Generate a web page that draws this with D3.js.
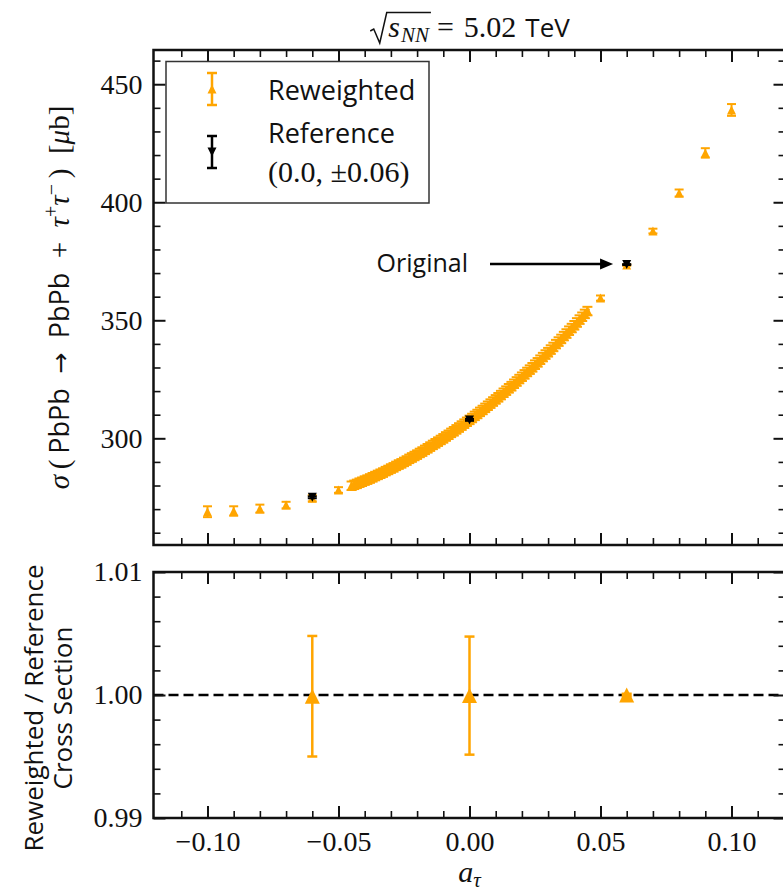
<!DOCTYPE html>
<html><head><meta charset="utf-8">
<script src="https://cdn.jsdelivr.net/npm/d3@7"></script>
<style>body{margin:0;background:#fff}</style>
</head><body><svg id="c" width="783" height="894"></svg>
<script>
// ---------------- data ----------------
const rwA     = [-0.10, -0.09, -0.08, -0.07, -0.06, -0.05, 0.05, 0.06, 0.07, 0.08, 0.09, 0.10];
const rwSigma = [268.9, 269.2, 270.2, 271.7, 274.6, 278.1, 359.4, 373.4, 387.8, 403.9, 420.9, 439.1];
const rwErr   = [2.3, 2.0, 1.7, 1.4, 1.3, 1.2, 1.1, 0.3, 1.0, 1.5, 2.0, 2.5];

const bandA = [-0.045,-0.044,-0.043,-0.042,-0.041,-0.040,-0.039,-0.038,-0.037,-0.036,-0.035,-0.034,
  -0.033,-0.032,-0.031,-0.030,-0.029,-0.028,-0.027,-0.026,-0.025,-0.024,-0.023,-0.022,-0.021,-0.020,
  -0.019,-0.018,-0.017,-0.016,-0.015,-0.014,-0.013,-0.012,-0.011,-0.010,-0.009,-0.008,-0.007,-0.006,
  -0.005,-0.004,-0.003,-0.002,-0.001,0.000,0.001,0.002,0.003,0.004,0.005,0.006,0.007,0.008,0.009,
  0.010,0.011,0.012,0.013,0.014,0.015,0.016,0.017,0.018,0.019,0.020,0.021,0.022,0.023,0.024,0.025,
  0.026,0.027,0.028,0.029,0.030,0.031,0.032,0.033,0.034,0.035,0.036,0.037,0.038,0.039,0.040,0.041,
  0.042,0.043,0.044,0.045];
const bandSigma = [279.9,280.3,280.7,281.2,281.6,282.1,282.5,283.0,283.5,284.0,284.5,285.0,
  285.5,286.1,286.6,287.2,287.7,288.3,288.9,289.4,290.0,290.6,291.3,291.9,292.5,293.1,
  293.8,294.4,295.1,295.8,296.5,297.2,297.9,298.6,299.3,300.0,300.8,301.5,302.3,303.0,
  303.8,304.6,305.4,306.2,307.0,307.8,308.6,309.5,310.3,311.2,312.0,312.9,313.8,314.7,315.6,
  316.5,317.4,318.3,319.3,320.2,321.2,322.1,323.1,324.1,325.1,326.1,327.1,328.1,329.1,330.1,331.2,
  332.2,333.3,334.4,335.5,336.5,337.6,338.7,339.9,341.0,342.1,343.3,344.4,345.6,346.7,347.9,349.1,
  350.3,351.5,352.7,353.9];
const bandErr = 1.8;

const refA     = [-0.06, 0.00, 0.06];
const refSigma = [275.0, 307.8, 373.6];
const refErr   = [0.4, 0.4, 0.2];

const ratioA   = [-0.06, 0.00, 0.06];
const ratioVal = [0.9999, 0.99995, 1.0000];
const ratioErr = [0.0049, 0.0048, 0.0001];

const xMajorTicks  = [-0.10, -0.05, 0.00, 0.05, 0.10];
const xTickLabels  = ["\u22120.10", "\u22120.05", "0.00", "0.05", "0.10"];
const xMinorTicks  = [-0.11,-0.09,-0.08,-0.07,-0.06,-0.04,-0.03,-0.02,-0.01,0.01,0.02,0.03,0.04,0.06,0.07,0.08,0.09,0.11,0.12];
const yTopMajor    = [300, 350, 400, 450];
const yTopLabels   = ["300", "350", "400", "450"];
const yTopMinor    = [260, 270, 280, 290, 310, 320, 330, 340, 360, 370, 380, 390, 410, 420, 430, 440, 460];
const yBotMajor    = [0.99, 1.00, 1.01];
const yBotLabels   = ["0.99", "1.00", "1.01"];
const yBotMinor    = [0.992, 0.994, 0.996, 0.998, 1.002, 1.004, 1.006, 1.008];

// ---------------- setup ----------------
const fontNames = ["Liberation Serif", "Open Sans", "DejaVu Sans"];
const SERIF = `"${fontNames[0]}"`;
const SANS = `"${fontNames[1]}"`;
const DJ = `"${fontNames[2]}"`;
const svg = d3.select("#c");
const ORANGE = "#FFA500";

const L = 153.5, R = 785.5;
const x  = d3.scaleLinear().domain([-0.1206, 0.1206]).range([L, R]);
const yT = d3.scaleLinear().domain([254.8, 464.5]).range([545, 50]);
const yB = d3.scaleLinear().domain([0.99, 1.01]).range([818, 572]);

const ctx = document.createElement("canvas").getContext("2d");
function measure(t, size, fam, style){ ctx.font = `${style || "normal"} ${size}px ${fam}`; return ctx.measureText(t).width; }

function styleAxis(g){
  g.attr("font-family", null).attr("font-size", null);
  g.select(".domain").remove();
  g.selectAll(".tick line").attr("stroke", "#111");
  g.selectAll(".tick text").style("font-family", SERIF).attr("font-size", 28).attr("fill", "#111");
}

function panelAxes(yS, yMajor, yMinor, yLabels, top, bottom, showX){
  const fmtX = d => showX ? xTickLabels[xMajorTicks.indexOf(d)] : "";
  const add = (tr, axis, w) => svg.append("g").attr("transform", tr).call(axis)
    .call(styleAxis).call(g => g.selectAll(".tick line").attr("stroke-width", w));
  add(`translate(0,${bottom})`, d3.axisBottom(x).tickValues(xMajorTicks).tickSize(-12).tickPadding(13).tickFormat(fmtX), 2);
  add(`translate(0,${bottom})`, d3.axisBottom(x).tickValues(xMinorTicks).tickSize(-7).tickFormat(""), 1.6);
  add(`translate(0,${top})`, d3.axisTop(x).tickValues(xMajorTicks).tickSize(-12).tickFormat(""), 2);
  add(`translate(0,${top})`, d3.axisTop(x).tickValues(xMinorTicks).tickSize(-7).tickFormat(""), 1.6);
  add(`translate(${L},0)`, d3.axisLeft(yS).tickValues(yMajor).tickSize(-12).tickPadding(11).tickFormat((d, i) => yLabels[i]), 2);
  add(`translate(${L},0)`, d3.axisLeft(yS).tickValues(yMinor).tickSize(-7).tickFormat(""), 1.6);
  add(`translate(${R},0)`, d3.axisRight(yS).tickValues(yMajor).tickSize(-12).tickFormat(""), 2);
  add(`translate(${R},0)`, d3.axisRight(yS).tickValues(yMinor).tickSize(-7).tickFormat(""), 1.6);
  svg.append("rect").attr("x", L).attr("y", top).attr("width", R - L).attr("height", bottom - top)
    .attr("fill", "none").attr("stroke", "#111").attr("stroke-width", 2.5);
}

function triPath(cx, cy, m, up){
  const h = m / 2;
  return up ? `M${cx},${cy - h}L${cx + h},${cy + h}L${cx - h},${cy + h}Z`
            : `M${cx},${cy + h}L${cx + h},${cy - h}L${cx - h},${cy - h}Z`;
}

function errSeries(g, xs, ys, es, yS, color, m, cap, lw, up){
  xs.forEach((a, i) => {
    const cx = x(a);
    const e = Array.isArray(es) ? es[i] : es;
    const y1 = yS(ys[i] - e), y2 = yS(ys[i] + e);
    g.append("line").attr("x1", cx).attr("x2", cx).attr("y1", y1).attr("y2", y2)
      .attr("stroke", color).attr("stroke-width", lw);
    [y1, y2].forEach(yy => g.append("line").attr("x1", cx - cap).attr("x2", cx + cap)
      .attr("y1", yy).attr("y2", yy).attr("stroke", color).attr("stroke-width", lw));
  });
  xs.forEach((a, i) => {
    g.append("path").attr("d", triPath(x(a), yS(ys[i]), m, up)).attr("fill", color);
  });
}

function txt(parent, fam, size, t){
  return parent.append("text").style("font-family", fam).attr("font-size", size).attr("fill", "#111").text(t);
}

// ---------------- top panel ----------------
const TOP = 50, BOT = 545;
const gTop = svg.append("g");
errSeries(gTop, rwA, rwSigma, rwErr, yT, ORANGE, 9, 4.5, 2, true);
errSeries(gTop, bandA, bandSigma, bandErr, yT, ORANGE, 10, 5, 2, true);
errSeries(gTop, refA, refSigma, refErr, yT, "#000", 9, 4.5, 2, false);
panelAxes(yT, yTopMajor, yTopMinor, yTopLabels, TOP, BOT, false);

// annotation
txt(svg, SANS, 25, "Original").attr("x", 468).attr("y", 272).attr("text-anchor", "end");
{
  const tipX = x(0.0548), ay = yT(373.8);
  svg.append("line").attr("x1", 490).attr("x2", tipX - 10).attr("y1", ay).attr("y2", ay)
    .attr("stroke", "#000").attr("stroke-width", 2.5);
  svg.append("path").attr("d", `M${tipX},${ay}L${tipX - 13},${ay - 5.5}L${tipX - 13},${ay + 5.5}Z`).attr("fill", "#000");
}

// legend
{
  const lg = svg.append("g");
  lg.append("rect").attr("x", 166).attr("y", 61.5).attr("width", 263).attr("height", 141.5)
    .attr("fill", "#fff").attr("stroke", "#333").attr("stroke-width", 1.5);
  function handle(cx, cy, color, up){
    lg.append("line").attr("x1", cx).attr("x2", cx).attr("y1", cy - 16).attr("y2", cy + 16).attr("stroke", color).attr("stroke-width", 2.5);
    [cy - 16, cy + 16].forEach(yy => lg.append("line").attr("x1", cx - 5).attr("x2", cx + 5).attr("y1", yy).attr("y2", yy).attr("stroke", color).attr("stroke-width", 2.5));
    lg.append("path").attr("d", triPath(cx, cy, 9, up)).attr("fill", color);
  }
  handle(212, 89, ORANGE, true);
  handle(212, 152, "#000", false);
  txt(lg, SANS, 27, "Reweighted").attr("x", 268).attr("y", 100);
  txt(lg, SANS, 27, "Reference").attr("x", 268).attr("y", 143);
  txt(lg, SERIF, 30, "(0.0, \u00B10.06)").attr("x", 268).attr("y", 182);
}

// ---------------- bottom panel ----------------
const TOP2 = 572, BOT2 = 818;
svg.append("line").attr("x1", L).attr("x2", R).attr("y1", yB(1.0)).attr("y2", yB(1.0))
  .attr("stroke", "#000").attr("stroke-width", 2.5).attr("stroke-dasharray", "10,5");
const gBot = svg.append("g");
errSeries(gBot, ratioA, ratioVal, ratioErr, yB, ORANGE, 15, 5, 2.5, true);
panelAxes(yB, yBotMajor, yBotMinor, yBotLabels, TOP2, BOT2, true);

// ---------------- title ----------------
{
  const pieces = [
    {t: "s", fam: SERIF, size: 30, style: "italic", gap: 1, dy: 0},
    {t: "NN", fam: SERIF, size: 21, style: "italic", gap: 8, dy: 5},
    {t: "=", fam: SERIF, size: 30, gap: 10, dy: 0},
    {t: "5.02", fam: SERIF, size: 30, gap: 9, dy: 0},
    {t: "TeV", fam: SANS, size: 26, gap: 0, dy: 0}
  ];
  const radW = 19;
  pieces.forEach(p => p.w = measure(p.t, p.size, p.fam, p.style));
  const total = radW + d3.sum(pieces, p => p.w + p.gap);
  let cx = (L + R) / 2 - total / 2;
  const x0 = cx;
  cx += radW;
  let endOver = 0;
  pieces.forEach((p, i) => {
    txt(svg, p.fam, p.size, p.t).attr("x", cx).attr("y", 37 + p.dy).attr("font-style", p.style || "normal");
    cx += p.w;
    if (i === 1) endOver = cx + 2;
    cx += p.gap;
  });
  svg.append("path").attr("d", `M${x0 + 1},31L${x0 + 4.5},29L${x0 + 10.5},43L${x0 + 17.5},12.5L${endOver},12.5`)
    .attr("fill", "none").attr("stroke", "#111").attr("stroke-width", 1.5);
}

// ---------------- x label ----------------
{
  const t = txt(svg, SERIF, 30, null).attr("x", (L + R) / 2).attr("y", 882).attr("text-anchor", "middle");
  t.append("tspan").attr("font-style", "italic").text("a");
  t.append("tspan").attr("font-style", "italic").attr("font-size", 21).attr("dy", 5).text("\u03C4");
}

// ---------------- y label top ----------------
{
  const t = txt(svg, SERIF, 29, null).attr("transform", `translate(69,${(TOP + BOT) / 2}) rotate(-90)`)
    .attr("text-anchor", "middle");
  const parts = [
    {t: "\u03C3", style: "italic"},
    {t: "\u2009(\u2009"},
    {t: "PbPb", fam: SANS, size: 27},
    {t: "\u2002"},
    {t: "\u2192", fam: DJ, size: 25},
    {t: "\u2002"},
    {t: "PbPb", fam: SANS, size: 27},
    {t: "\u2002+\u2002"},
    {t: "\u03C4", style: "italic"},
    {t: "+", size: 20, dy: -11},
    {t: "\u03C4", style: "italic", dy: 11},
    {t: "\u2212", size: 20, dy: -11},
    {t: "\u2009)\u2002", dy: 11},
    {t: "["},
    {t: "\u03BC", style: "italic"},
    {t: "b]"}
  ];
  parts.forEach(p => {
    const s = t.append("tspan").text(p.t);
    if (p.fam) s.style("font-family", p.fam);
    if (p.size) s.attr("font-size", p.size);
    if (p.style) s.attr("font-style", p.style);
    if (p.dy) s.attr("dy", p.dy);
  });
}

// ---------------- y label bottom ----------------
{
  const cy = 708;
  txt(svg, SANS, 26, "Reweighted / Reference").attr("transform", `translate(43,${cy}) rotate(-90)`).attr("text-anchor", "middle");
  txt(svg, SANS, 26, "Cross Section").attr("transform", `translate(72,${cy}) rotate(-90)`).attr("text-anchor", "middle");
}
</script></body></html>
